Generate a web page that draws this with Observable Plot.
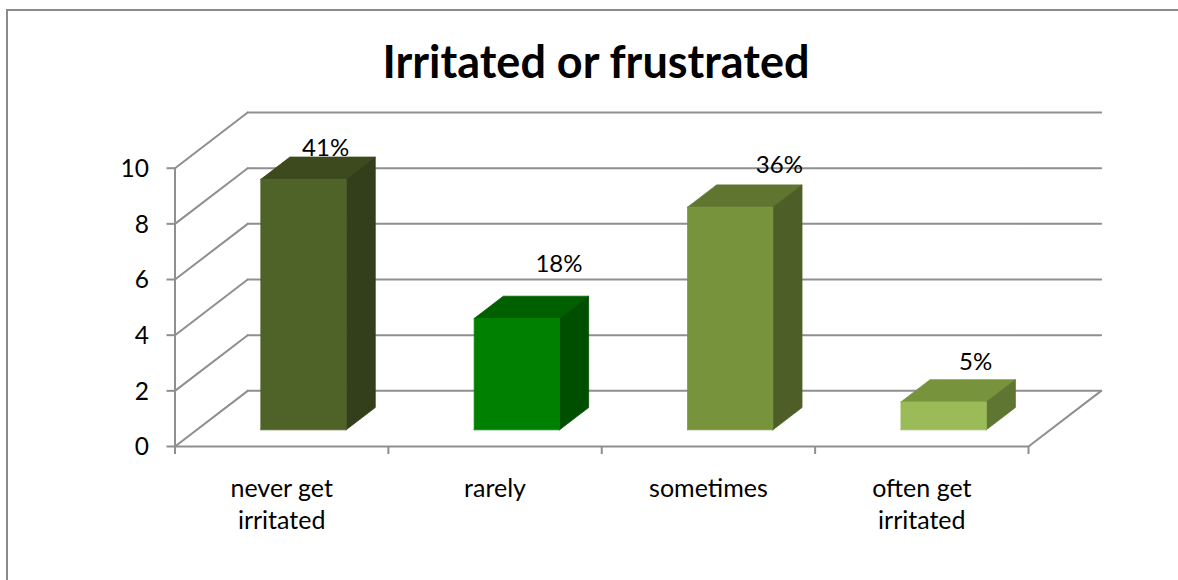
<!doctype html>
<html>
<head>
<meta charset="utf-8">
<title>Irritated or frustrated</title>
<script src="https://cdn.jsdelivr.net/npm/d3@7"></script>
<script src="https://cdn.jsdelivr.net/npm/@observablehq/plot@0.6"></script>
<style>
  html, body { margin: 0; background: #fff; }
  body { position: relative; width: 1178px; height: 580px; overflow: hidden; font-family: Lato, sans-serif; }
  #frame { position: absolute; left: 6px; top: 9px; right: -4px; bottom: -4px; border-left: 2px solid #8a8a8a; border-top: 2px solid #8a8a8a; }
  #title { margin: 0; height: 100px; padding-left: 14px; box-sizing: border-box; text-align: center; font-size: 45px; font-weight: 700; line-height: 122px; color: #000; }
  svg { display: block; }
</style>
</head>
<body>
<div id="frame"></div>
<h1 id="title">Irritated or frustrated</h1>
<div id="chart"></div>
<script>
// Survey responses per answer; the percentage labels are shares of the total.
const categories = ["never get\nirritated", "rarely", "sometimes", "often get\nirritated"];
const counts = [9, 4, 8, 1];
const valueTicks = [0, 2, 4, 6, 8, 10];

// Face colours of each column.
const frontColors = ["#4f6228", "#008000", "#77933c", "#9bbb59"];
const topColors = ["#3c4a1e", "#006000", "#5f7530", "#77933c"];
const sideColors = ["#333f1a", "#004f00", "#4d5e26", "#5f7532"];

// Hand-placed offsets of the percentage labels from each column's top.
const labelDx = [-7, 13, 20, 3];
const labelDy = [-9, -32, -20, -17];

const grey = "#8f8f8f";

// Oblique projection: one unit of depth moves this far along x (categories) and y (value).
const depthX = 0.3407;
const depthY = 2;
const project = (cat, val, depth) => ({x: cat + depth * depthX, y: val + depth * depthY});

// Column footprint inside each category slot and along the depth axis.
const barStart = 0.3, barEnd = 0.7, depthStart = 0.3, depthEnd = 0.7;

const total = d3.sum(counts);
const share = d3.format(".0%");
const slots = d3.range(categories.length + 1);

// Walls and floor of the box.
const wallLines = valueTicks.flatMap((v) => [
  {...project(0, v, 0), id: `side${v}`},
  {...project(0, v, 1), id: `side${v}`},
  {...project(0, v, 1), id: `back${v}`},
  {...project(categories.length, v, 1), id: `back${v}`}
]);
const frameLines = [
  {...project(0, 0, 0), id: "axisY"},
  {...project(0, valueTicks.at(-1), 0), id: "axisY"},
  {...project(0, 0, 0), id: "floor"},
  {...project(categories.length, 0, 0), id: "floor"},
  {...project(categories.length, 0, 1), id: "floor"}
];

// One column: a front polygon plus top and side parallelograms, with strokes closing the seams.
function column(value, i) {
  const x0 = i + barStart, x1 = i + barEnd;
  const frontFace = [
    project(x0, 0, depthStart), project(x0, value, depthStart),
    project(x1, value, depthStart), project(x1, 0, depthStart)
  ];
  const topFace = [
    project(x0, value, depthStart), project(x1, value, depthStart),
    project(x1, value, depthEnd), project(x0, value, depthEnd)
  ];
  const sideFace = [
    project(x1, 0, depthStart), project(x1, value, depthStart),
    project(x1, value, depthEnd), project(x1, 0, depthEnd)
  ];
  const face = (points, color) =>
    Plot.line(points.concat(points[0]), {x: "x", y: "y", fill: color, stroke: color, strokeWidth: 0.8});
  return [face(topFace, topColors[i]), face(sideFace, sideColors[i]), face(frontFace, frontColors[i])];
}

const labels = counts.map((v, i) => ({
  ...project(i + (barStart + barEnd) / 2, v, depthEnd),
  text: share(v / total),
  dx: labelDx[i],
  dy: labelDy[i]
}));

const chart = Plot.plot({
  width: 1178,
  height: 480,
  marginLeft: 174.5,
  marginRight: 150,
  marginTop: 67.7,
  marginBottom: 134,
  style: {fontFamily: "Lato, sans-serif", background: "transparent", overflow: "visible", color: "#000"},
  x: {domain: [0, categories.length], axis: null},
  y: {domain: [0, 10], axis: null},
  marks: [
    Plot.line(wallLines, {x: "x", y: "y", z: "id", stroke: grey, strokeWidth: 2}),
    Plot.line(frameLines, {x: "x", y: "y", z: "id", stroke: grey, strokeWidth: 2}),
    Plot.axisY(valueTicks, {anchor: "left", tickSize: 8, stroke: grey, strokeWidth: 2, text: null, label: null}),
    Plot.text(valueTicks, {y: (d) => d, frameAnchor: "left", text: (d) => `${d}`, textAnchor: "end", dx: -26, dy: 1, fontSize: 24.5, fill: "#000"}),
    Plot.axisX(slots, {anchor: "bottom", tickSize: 8, stroke: grey, strokeWidth: 2, tickFormat: () => "", label: null}),
    counts.map(column),
    Plot.text(categories, {x: (d, i) => i + 0.5, y: 0, text: (d) => d, dy: 27, lineAnchor: "top", lineHeight: 1.3, fontSize: 25, fill: "#000"}),
    labels.map((d) => Plot.text([d], {x: "x", y: "y", text: "text", dx: d.dx, dy: d.dy, fontSize: 24, fill: "#000"}))
  ]
});
document.getElementById("chart").appendChild(chart);
</script>
</body>
</html>
